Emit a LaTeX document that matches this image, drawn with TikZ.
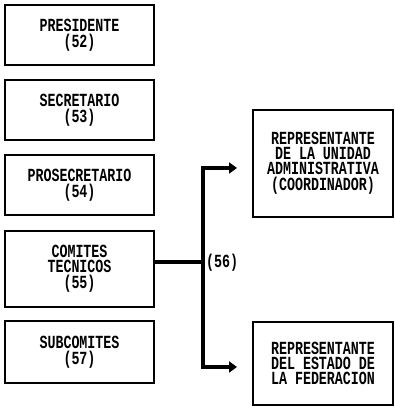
\documentclass[tikz,border=0pt]{standalone}
\usepackage{fontspec}
\newfontfamily\dotfont[FakeStretch=0.72]{Liberation Mono}
\usetikzlibrary{arrows.meta}
\tikzset{
  box/.style={draw, line width=1.6pt, inner sep=0pt, align=center,
    font=\dotfont\bfseries\fontsize{18.5}{13.5}\selectfont},
  conn/.style={line width=4.5pt},
  lbl/.style={font=\dotfont\bfseries\fontsize{18.5}{13.5}\selectfont, inner sep=0pt}
}
\begin{document}
\begin{tikzpicture}[x=1pt,y=1pt]
\useasboundingbox (0,0) rectangle (394,420);
\node[box, minimum width=149pt, minimum height=60pt] (b1) at (79.5,385) {PRESIDENTE\\[1.5pt](52)};
\node[box, minimum width=149pt, minimum height=60pt] (b2) at (79.5,310) {SECRETARIO\\[1.5pt](53)};
\node[box, minimum width=149pt, minimum height=60pt] (b3) at (79.5,235) {PROSECRETARIO\\[1.5pt](54)};
\node[box, minimum width=149pt, minimum height=76pt] (b4) at (79.5,151) {COMITES\\[1.5pt]TECNICOS\\[1.5pt](55)};
\node[box, minimum width=149pt, minimum height=62pt] (b5) at (79.5,68) {SUBCOMITES\\[1.5pt](57)};
\node[box, minimum width=140pt, minimum height=107pt] (ra) at (323,256.5) {REPRESENTANTE\\[1.5pt]DE LA UNIDAD\\[1.5pt]ADMINISTRATIVA\\[1.5pt](COORDINADOR)};
\node[box, minimum width=140pt, minimum height=83pt] (rb) at (323,56.5) {REPRESENTANTE\\[1.5pt]DEL ESTADO DE\\[1.5pt]LA FEDERACION};
\coordinate (j) at (203,158);
\coordinate (ja) at (203,252);
\coordinate (jb) at (203,53);
\coordinate (ea) at (237,252);
\coordinate (eb) at (237,53);
\draw[conn] (b4.east |- j) -- (j);
\draw[conn, -{Triangle[length=8pt,width=11pt]}] (j) -- (ja) -- (ea);
\draw[conn, -{Triangle[length=8pt,width=11pt]}] (j) -- (jb) -- (eb);
\node[lbl, anchor=west] (l56) at (206,157.5) {(56)};
\end{tikzpicture}
\end{document}
